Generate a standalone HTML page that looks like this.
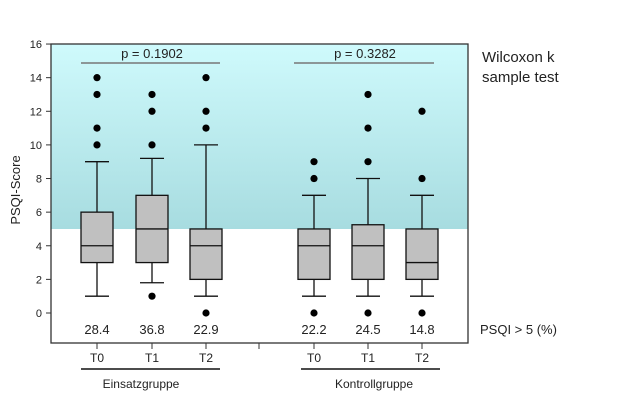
<!DOCTYPE html>
<html><head><meta charset="utf-8"><style>
html,body{margin:0;padding:0;background:#fff;width:640px;height:400px;overflow:hidden}
text{font-family:"Liberation Sans",Arial,sans-serif;fill:#222}
</style></head><body>
<svg id="s" width="640" height="400" xmlns="http://www.w3.org/2000/svg">
<defs><linearGradient id="g" x1="0" y1="0" x2="0" y2="1">
<stop offset="0" stop-color="#cffafc"/><stop offset="1" stop-color="#a7dce0"/></linearGradient></defs>
<rect x="51" y="44" width="417" height="185" fill="url(#g)"/>
<rect x="51" y="44" width="417" height="299" fill="none" stroke="#333" stroke-width="1.3"/>
<g id="p"></g>
<line x1="81" y1="63" x2="220" y2="63" stroke="#777" stroke-width="1.5"/>
<line x1="294" y1="63" x2="434" y2="63" stroke="#777" stroke-width="1.5"/>
<text x="152" y="58" font-size="13" text-anchor="middle">p = 0.1902</text>
<text x="365" y="58" font-size="13" text-anchor="middle">p = 0.3282</text>
<text x="482" y="62" font-size="15">Wilcoxon k</text>
<text x="482" y="82" font-size="15">sample test</text>
<text x="480" y="334" font-size="13">PSQI &gt; 5 (%)</text>
<text x="20" y="190" font-size="13" text-anchor="middle" transform="rotate(-90 20 190)">PSQI-Score</text>
<line x1="81" y1="369" x2="220" y2="369" stroke="#111" stroke-width="1.5"/>
<line x1="301" y1="369" x2="440" y2="369" stroke="#111" stroke-width="1.5"/>
<text x="141" y="388" font-size="12" text-anchor="middle">Einsatzgruppe</text>
<text x="374" y="388" font-size="12" text-anchor="middle">Kontrollgruppe</text>
<line x1="259" y1="343" x2="259" y2="349" stroke="#333"/>
</svg>
<script>
var s=document.getElementById('p'),h='';
function Y(v){return 313-v*16.81;}
for(var i=0;i<=16;i+=2){var y=Y(i);h+='<line x1="46" y1="'+y+'" x2="51" y2="'+y+'" stroke="#333"/><text x="42" y="'+(y+4)+'" font-size="11" text-anchor="end">'+i+'</text>';}
var D=[[97,3,6,4,1,9,[10,11,13,14],'28.4','T0'],[152,3,7,5,1.8,9.2,[1,10,12,13],'36.8','T1'],[206,2,5,4,1,10,[0,11,12,14],'22.9','T2'],
[314,2,5,4,1,7,[0,8,9],'22.2','T0'],[368,2,5.25,4,1,8,[0,9,11,13],'24.5','T1'],[422,2,5,3,1,7,[0,8,12],'14.8','T2']];
D.forEach(function(d){var x=d[0],st='stroke="#111" stroke-width="1.3"';
h+='<line x1="'+x+'" y1="'+Y(d[5])+'" x2="'+x+'" y2="'+Y(d[4])+'" '+st+'/>';
h+='<line x1="'+(x-12)+'" y1="'+Y(d[5])+'" x2="'+(x+12)+'" y2="'+Y(d[5])+'" '+st+'/>';
h+='<line x1="'+(x-12)+'" y1="'+Y(d[4])+'" x2="'+(x+12)+'" y2="'+Y(d[4])+'" '+st+'/>';
h+='<rect x="'+(x-16)+'" y="'+Y(d[2])+'" width="32" height="'+(Y(d[1])-Y(d[2]))+'" fill="#c0c0c0" '+st+'/>';
h+='<line x1="'+(x-16)+'" y1="'+Y(d[3])+'" x2="'+(x+16)+'" y2="'+Y(d[3])+'" '+st+'/>';
d[6].forEach(function(o){h+='<circle cx="'+x+'" cy="'+Y(o)+'" r="3.6" fill="#000"/>';});
h+='<text x="'+x+'" y="334" font-size="13" text-anchor="middle">'+d[7]+'</text>';
h+='<line x1="'+x+'" y1="343" x2="'+x+'" y2="349" stroke="#333"/><text x="'+x+'" y="362" font-size="12" text-anchor="middle">'+d[8]+'</text>';});
s.innerHTML=h;
</script>
</body></html>
